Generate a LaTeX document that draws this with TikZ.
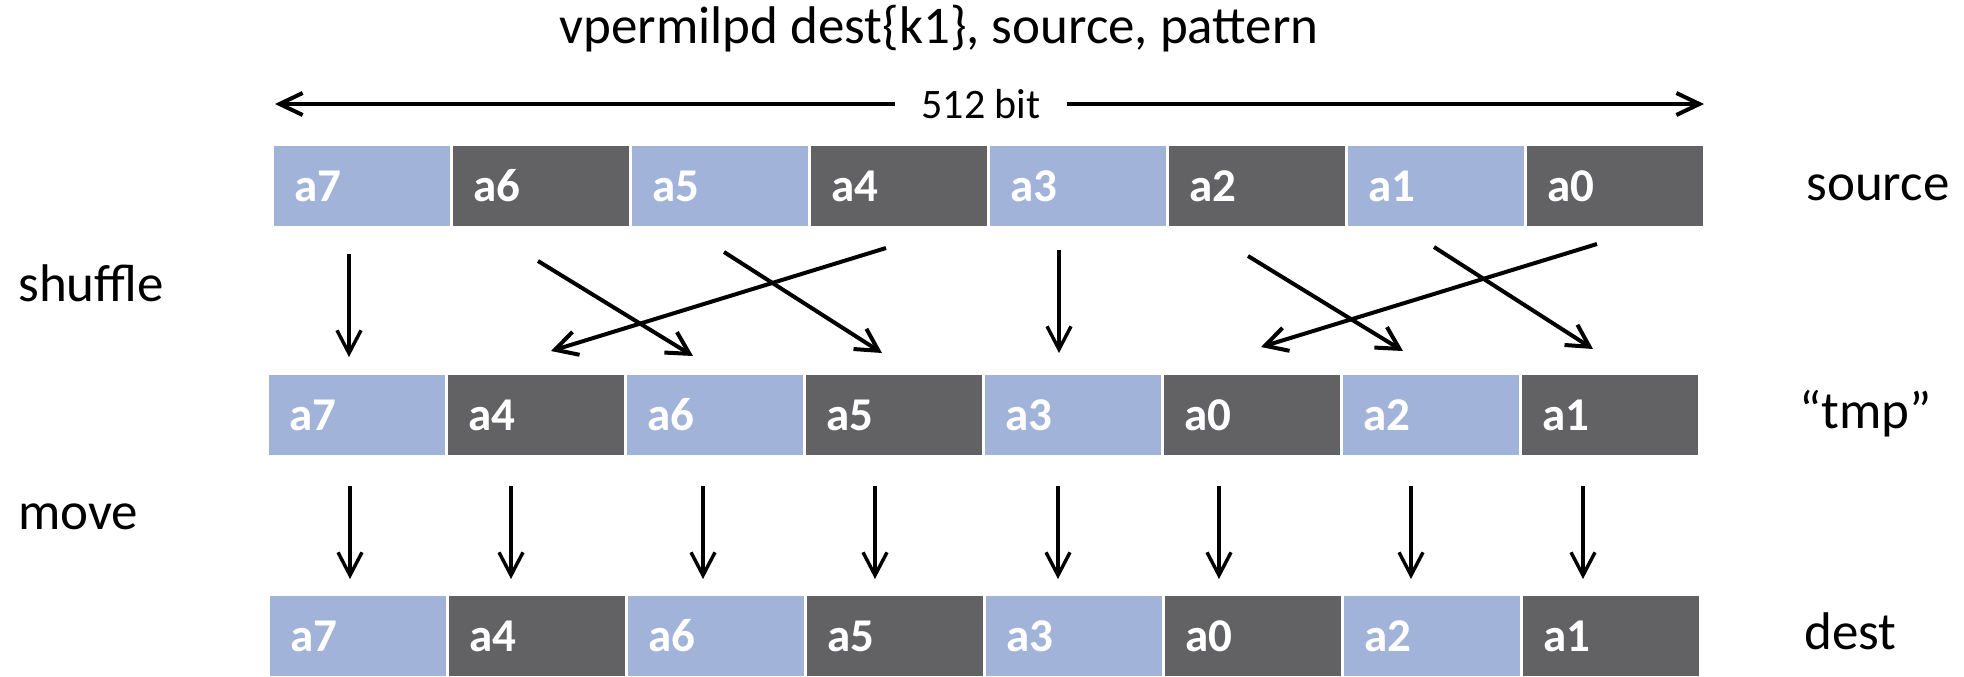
\documentclass[tikz,border=0pt]{standalone}
\usepackage{fontspec}
\setmainfont{Carlito}
\usetikzlibrary{arrows.meta}
\definecolor{laneblue}{RGB}{162,179,217}
\definecolor{lanegray}{RGB}{98,98,100}
\begin{document}
\begin{tikzpicture}[x=0.5pt,y=-0.5pt,
  lane/.style={anchor=north west,minimum height=40pt,text width=68pt,align=left,
    inner xsep=10pt,inner ysep=0pt,outer sep=0pt,text=white,
    font=\fontsize{23.5}{28}\selectfont\bfseries},
  caption/.style={inner sep=0pt,font=\fontsize{26.5}{32}\selectfont},
  widthtag/.style={inner xsep=13pt,inner ysep=0pt,font=\fontsize{21}{25}\selectfont},
  spanarrow/.style={line width=2pt,-{Straight Barb[length=11.5pt,width=11pt]}},
  crossarrow/.style={line width=2pt,-{Straight Barb[length=11pt,width=12pt]}},
  droparrow/.style={line width=1.7pt,-{Straight Barb[length=11.5pt,width=12pt]}}]
\useasboundingbox (0,0) rectangle (1964,676);

% title and register width
\node[caption,anchor=base] (title) at (939,43) {vpermilpd dest\{k1\}, source, pattern};
\node[widthtag] (bits) at (981,104) {512 bit};
\coordinate (spanL) at (275,104);
\coordinate (spanR) at (1704,104);
\draw[spanarrow] (bits.west) -- (spanL);
\draw[spanarrow] (bits.east) -- (spanR);

% the three registers
\foreach \lab/\col [count=\i from 0] in {a7/laneblue,a6/lanegray,a5/laneblue,a4/lanegray,a3/laneblue,a2/lanegray,a1/laneblue,a0/lanegray}
  \node[lane,fill=\col] (src\i) at ({274+179*\i},146) {\lab};
\foreach \lab/\col [count=\i from 0] in {a7/laneblue,a4/lanegray,a6/laneblue,a5/lanegray,a3/laneblue,a0/lanegray,a2/laneblue,a1/lanegray}
  \node[lane,fill=\col] (tmp\i) at ({269+179*\i},375) {\lab};
\foreach \lab/\col [count=\i from 0] in {a7/laneblue,a4/lanegray,a6/laneblue,a5/lanegray,a3/laneblue,a0/lanegray,a2/laneblue,a1/lanegray}
  \node[lane,fill=\col] (dst\i) at ({270+179*\i},596) {\lab};

% row captions
\node[caption,anchor=base west] (lsrc) at (1806,200) {source};
\node[caption,anchor=base west] (ltmp) at (1799,428) {“tmp”};
\node[caption,anchor=base west] (ldst) at (1804,649) {dest};
\node[caption,anchor=base west] (lshuf) at (18,301) {shuffle};
\node[caption,anchor=base west] (lmove) at (18,529) {move};

% shuffle step
\coordinate (p7a) at (349,254);  \coordinate (p7b) at (349,357);
\coordinate (p6a) at (538,261);  \coordinate (p6b) at (693,356);
\coordinate (p5a) at (724,252);  \coordinate (p5b) at (882,353);
\coordinate (p4a) at (886,248);  \coordinate (p4b) at (551,351);
\coordinate (p3a) at (1059,250); \coordinate (p3b) at (1059,353);
\coordinate (p2a) at (1248,256); \coordinate (p2b) at (1403,351);
\coordinate (p1a) at (1434,247); \coordinate (p1b) at (1593,349);
\coordinate (p0a) at (1597,244); \coordinate (p0b) at (1261,347);
\draw[droparrow] (p7a) -- (p7b);
\draw[droparrow] (p3a) -- (p3b);
\foreach \k in {6,5,4,2,1,0}
  \draw[crossarrow] (p\k a) -- (p\k b);

% move step
\foreach \x [count=\i from 0] in {350,511,703,875,1058,1219,1411,1583} {
  \coordinate (m\i a) at (\x,486);
  \coordinate (m\i b) at (\x,579);
  \draw[droparrow] (m\i a) -- (m\i b);
}
\end{tikzpicture}
\end{document}
